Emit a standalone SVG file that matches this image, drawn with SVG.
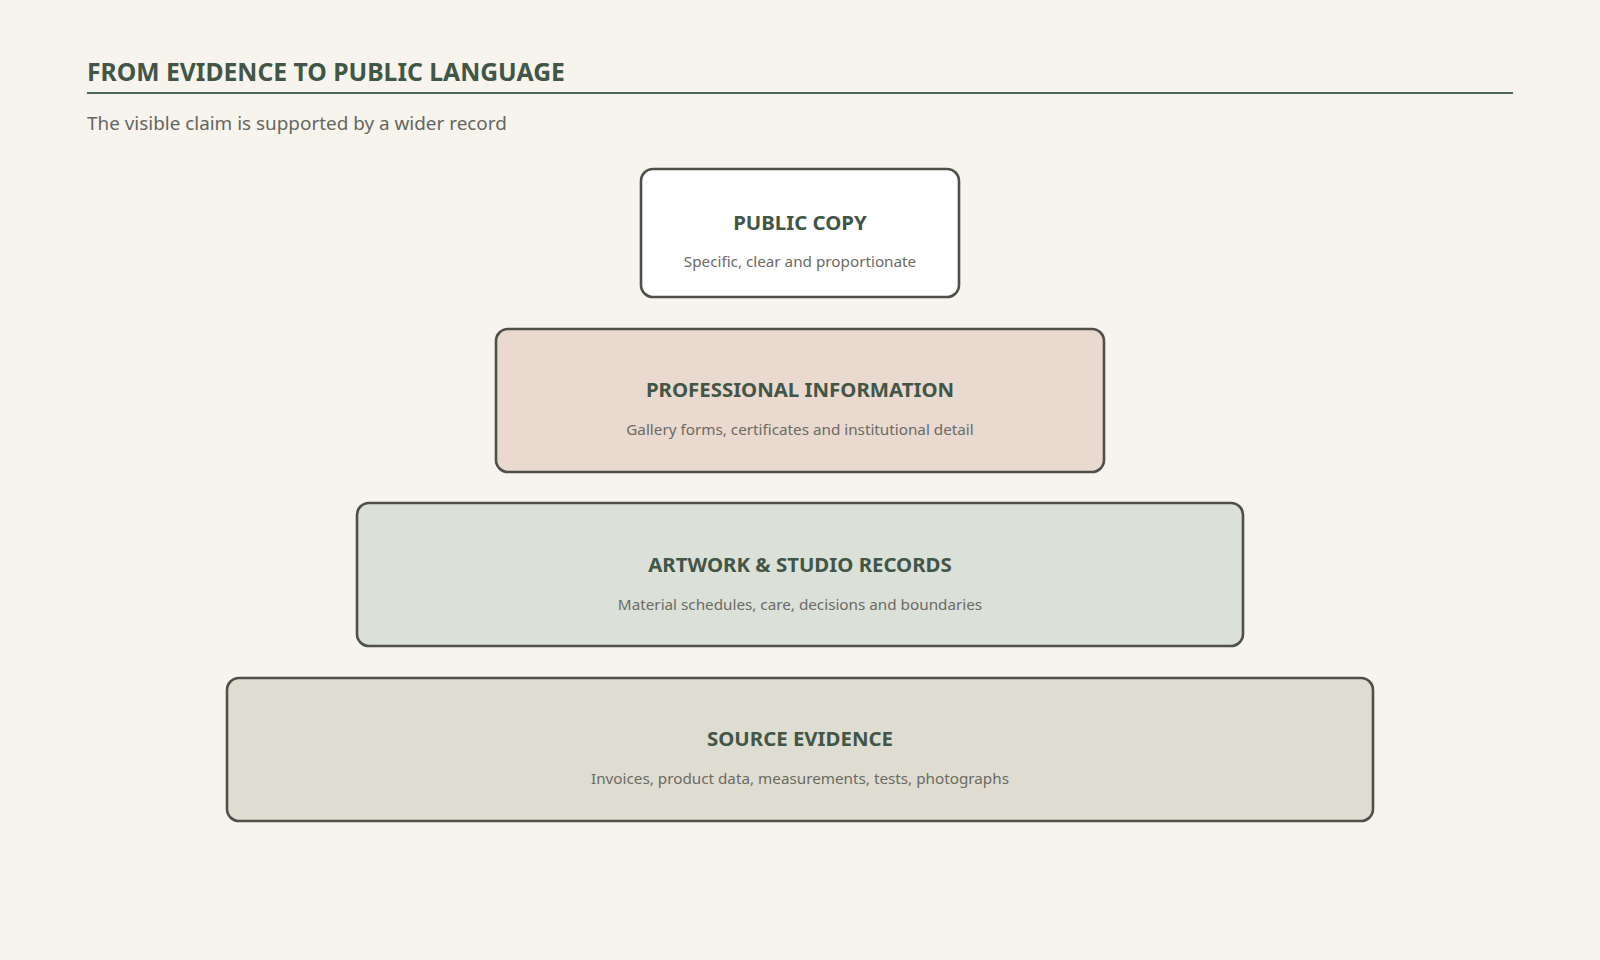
<svg xmlns="http://www.w3.org/2000/svg" width="1600" height="960" viewBox="0 0 1600 960">
  <style>
    .title { font-family: "Noto Sans", "Open Sans", sans-serif; font-weight: 700; font-size: 24.7px; fill: #415646; }
    .subtitle { font-family: "Noto Sans", "Open Sans", sans-serif; font-size: 18.9px; fill: #65665e; }
    .box { stroke: #4e5049; stroke-width: 2.6; }
    .ntitle { font-family: "Noto Sans", "Open Sans", sans-serif; font-weight: 700; font-size: 20.4px; fill: #415646; text-anchor: middle; }
    .nsub { font-family: "Noto Sans", "Open Sans", sans-serif; font-size: 15.25px; fill: #6b6a63; text-anchor: middle; }
  </style>
  <rect x="0" y="0" width="1600" height="960" fill="#f7f4ed"/>
  <g id="header">
    <text class="title" x="87" y="81">FROM EVIDENCE TO PUBLIC LANGUAGE</text>
    <line x1="87" y1="93" x2="1513" y2="93" stroke="#4f6855" stroke-width="2"/>
    <text class="subtitle" x="87" y="129.5">The visible claim is supported by a wider record</text>
  </g>
  <g id="connectors"></g>
  <g id="public-copy">
    <rect class="box" x="641" y="169" width="318" height="128" rx="12" fill="#ffffff"/>
    <text class="ntitle" x="800" y="230">PUBLIC COPY</text>
    <text class="nsub" x="800" y="267">Specific, clear and proportionate</text>
  </g>
  <g id="professional-information">
    <rect class="box" x="496" y="329" width="608" height="143" rx="12" fill="#e9d9cf"/>
    <text class="ntitle" x="800" y="397">PROFESSIONAL INFORMATION</text>
    <text class="nsub" x="800" y="435">Gallery forms, certificates and institutional detail</text>
  </g>
  <g id="artwork-studio-records">
    <rect class="box" x="357" y="503" width="886" height="143" rx="12" fill="#dbe0d8"/>
    <text class="ntitle" x="800" y="572">ARTWORK &amp; STUDIO RECORDS</text>
    <text class="nsub" x="800" y="610">Material schedules, care, decisions and boundaries</text>
  </g>
  <g id="source-evidence">
    <rect class="box" x="227" y="678" width="1146" height="143" rx="12" fill="#dfddd1"/>
    <text class="ntitle" x="800" y="746">SOURCE EVIDENCE</text>
    <text class="nsub" x="800" y="784">Invoices, product data, measurements, tests, photographs</text>
  </g>
</svg>
